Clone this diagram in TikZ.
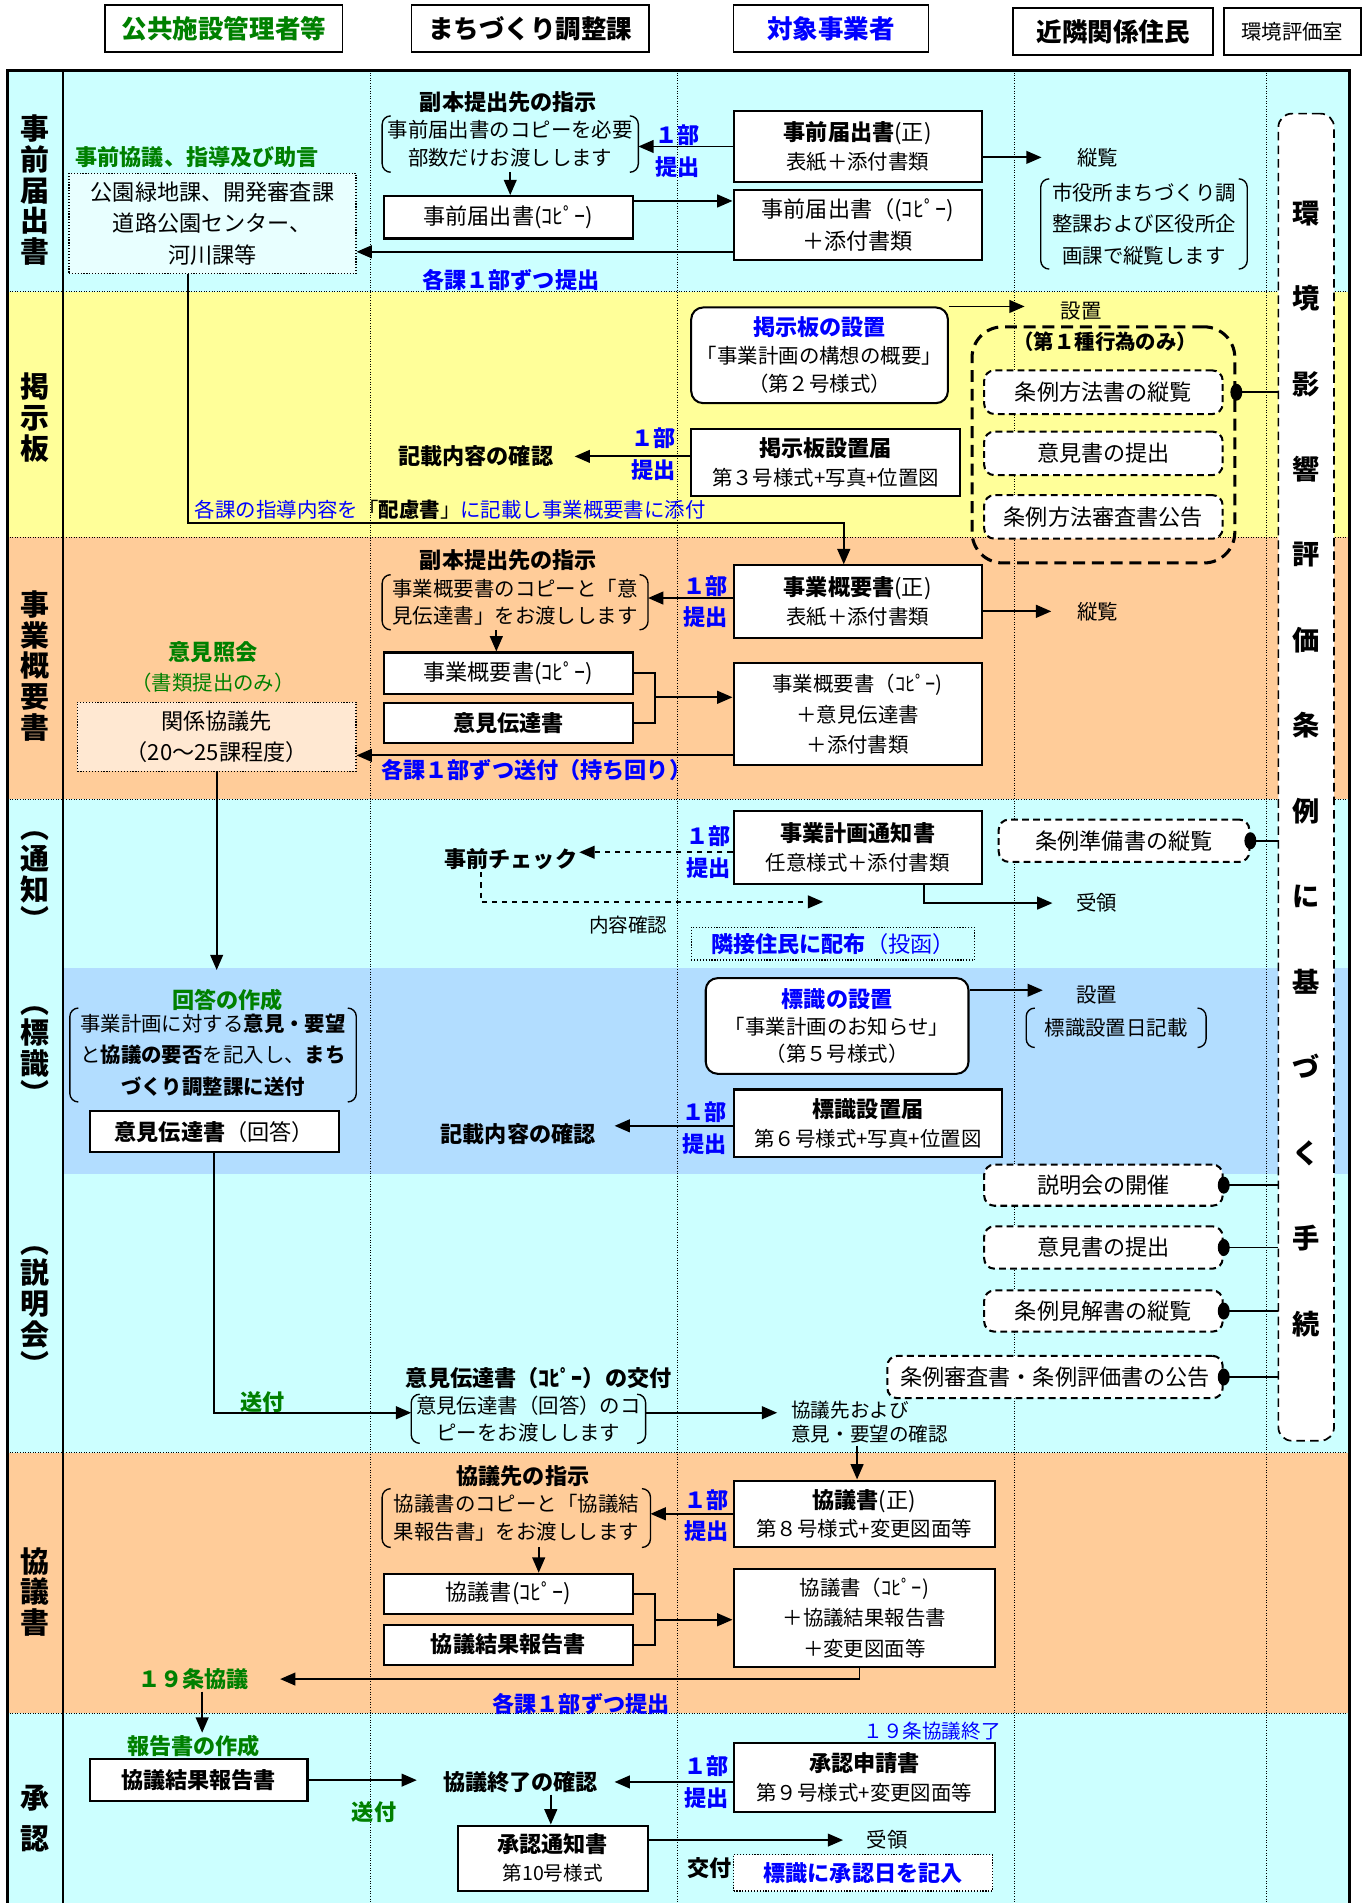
\documentclass[tikz,border=0pt]{standalone}
\usepackage{fontspec}
\setmainfont{Noto Sans CJK JP}
\usetikzlibrary{arrows.meta}
\definecolor{rcyan}{HTML}{CCFFFF}
\definecolor{lcyan}{HTML}{E8FFFF}
\definecolor{ryellow}{HTML}{FFFF99}
\definecolor{rorange}{HTML}{FFCC99}
\definecolor{lorange}{HTML}{FFE8D2}
\definecolor{rblue}{HTML}{B2DDFF}
\definecolor{dgreen}{HTML}{008000}
\newcommand\sz[2]{\fontsize{#1}{#2}\selectfont}
\newcommand\kakko[1]{%
	\draw[line width=0.8pt, rounded corners=5pt] ([xshift=5pt]#1.north west) -- (#1.north west) -- (#1.south west) -- ([xshift=5pt]#1.south west);
	\draw[line width=0.8pt, rounded corners=5pt] ([xshift=-5pt]#1.north east) -- (#1.north east) -- (#1.south east) -- ([xshift=-5pt]#1.south east);}

\begin{document}
\begin{tikzpicture}[x=0.025cm, y=-0.025cm, >={Triangle[length=9pt,width=7.5pt]},
	box/.style={draw=black, line width=1.2pt, fill=white, inner sep=0pt, align=center, font=\sz{12}{17}},
	rbox/.style={box, rounded corners=7pt},
	dbox/.style={draw=black, dashed, dash pattern=on 4pt off 2.5pt, line width=1.2pt, rounded corners=6pt, fill=white, inner sep=0pt, font=\sz{13}{17}},
	dotbox/.style={draw=black, densely dotted, line width=0.7pt, inner sep=0pt, align=center, font=\sz{13}{18.5}},
	brk/.style={inner sep=0pt, align=center, font=\sz{12}{16.4}},
	hbox/.style={draw=black, line width=1pt, inner sep=0pt, font=\sz{15}{17}\bfseries, minimum height=0.96cm},
	rowlbl/.style={inner sep=0pt, align=center, font=\sz{17}{18}\bfseries},
	tn/.style={inner sep=1pt, font=\sz{12}{14}},
	tb/.style={inner sep=1pt, font=\sz{13}{15}\bfseries},
	tg/.style={inner sep=1pt, font=\sz{13}{15}\bfseries, text=dgreen},
	tbl/.style={inner sep=1pt, font=\sz{13}{15}\bfseries, text=blue},
	sub/.style={inner sep=0pt, align=center, font=\sz{13}{18.5}\bfseries, text=blue},
	con/.style={line width=1.1pt},
	grid/.style={densely dotted, line width=0.5pt}]
	
	\useasboundingbox (0,0) rectangle (1130,1572);
	
	\fill[rcyan] (6,58) rectangle (1115,241);
	\fill[ryellow] (6,241) rectangle (1115,444);
	\fill[rorange] (6,444) rectangle (1115,660);
	\fill[rcyan] (6,660) rectangle (1115,1200);
	\fill[rblue] (52,800) rectangle (1115,970);
	\fill[rorange] (6,1200) rectangle (1115,1415);
	\fill[rcyan] (6,1415) rectangle (1115,1572);
	
	\foreach \y in {241,444,660,1200,1415}
		\draw[grid] (6,\y) -- (1115,\y);
	\foreach \x in {306,560,838,1046}
		\draw[grid] (\x,58) -- (\x,1572);
	\draw[line width=0.8pt] (52,58) -- (52,1572);
	\draw[line width=2pt] (6,1572) -- (6,58) -- (1115,58) -- (1115,1572);
	
	\node[hbox, minimum width=4.9cm, text=dgreen] (kokyo) at (185,23.5) {公共施設管理者等};
	\node[hbox, minimum width=4.9cm] (machi) at (438,23.5) {まちづくり調整課};
	\node[hbox, minimum width=4.025cm, text=blue] (jigyosha) at (686.5,23.5) {対象事業者};
	\node[hbox, minimum width=4.125cm] (kinrin) at (919.5,26) {近隣関係住民};
	\node[hbox, minimum width=2.825cm, font=\sz{12}{14}] (kankyo) at (1067.5,26) {環境評価室};
	
	\node[rowlbl] (r1) at (29,157) {事\\前\\届\\出\\書};
	\node[rowlbl] (r2) at (29,345) {掲\\示\\板};
	\node[rowlbl] (r3) at (29,550) {事\\業\\概\\要\\書};
	\node[rowlbl] (r4) at (29,728) {︵\\通\\知\\︶};
	\node[rowlbl] (r5) at (29,872) {︵\\標\\識\\︶};
	\node[rowlbl] (r6) at (29,1083) {︵\\説\\明\\会\\︶};
	\node[rowlbl] (r7) at (29,1315) {協\\議\\書};
	\node[rowlbl, font=\sz{17}{24}\bfseries] (r8) at (29,1502) {承\\認};
	
	\node[box, dashed, dash pattern=on 5pt off 3pt, line width=1pt, rounded corners=8pt, minimum width=1.15cm, minimum height=27.4cm] (tetsuzuki) at (1079,642) {};
	\node[inner sep=0pt, align=center, font=\sz{16}{50.2}\bfseries] (tetsu) at (1079,635) {環\\境\\影\\響\\評\\価\\条\\例\\に\\基\\づ\\く\\手\\続};
	
	\node[tb] (fuku1) at (420,84) {副本提出先の指示};
	\node[brk, minimum width=5.275cm, minimum height=1.15cm] (b1) at (421.5,119) {事前届出書のコピーを必要\\部数だけお渡しします};
	\node[box, minimum width=5.15cm, minimum height=0.875cm, font=\sz{13}{17}] (copy1) at (420,179.5) {事前届出書(ｺﾋﾟｰ)};
	\node[box, minimum width=5.125cm, minimum height=1.45cm] (pre) at (708.5,121) {{\sz{13}{17}\bfseries 事前届出書}{\sz{13}{17}(正)}\\表紙＋添付書類};
	\node[box, minimum width=5.125cm, minimum height=1.45cm, font=\sz{13}{19}] (precopy) at (708.5,186) {事前届出書（(ｺﾋﾟｰ)\\＋添付書類};
	\node[dotbox, fill=lcyan, minimum width=5.925cm, minimum height=2.075cm] (kouen) at (175.5,184.5) {公園緑地課、開発審査課\\道路公園センター、\\河川課等};
	\node[tg] (jizen) at (163,130) {事前協議、指導及び助言};
	\node[tbl] (kaka1) at (422,231) {各課１部ずつ提出};
	\node[sub] (s1) at (560,125) {１部\\提出};
	\node[tn] (etsu1) at (907,130) {縦覧};
	\node[brk, minimum width=4.25cm, minimum height=1.85cm, font=\sz{12}{18.5}] (b2) at (945,185) {市役所まちづくり調\\整課および区役所企\\画課で縦覧します};
	\kakko{b1}
	\kakko{b2}
	
	\node[rbox, minimum width=5.3cm, minimum height=1.975cm, font=\sz{12}{16.4}] (keiji) at (677,293.5) {{\sz{13}{16.4}\bfseries\color{blue}掲示板の設置}\\「事業計画の構想の概要」\\（第２号様式）};
	\node[box, minimum width=5.55cm, minimum height=1.4cm] (ktodoke) at (682,382) {{\sz{13}{17}\bfseries 掲示板設置届}\\第３号様式+写真+位置図};
	\node[tb] (kisai1) at (393,377) {記載内容の確認};
	\node[sub] (s2) at (540,375) {１部\\提出};
	\node[tn] (secchi1) at (893,257) {設置};
	\node[draw=black, dashed, dash pattern=on 7pt off 4pt, line width=1.8pt, rounded corners=18pt, minimum width=5.425cm, minimum height=4.875cm, inner sep=0pt] (dai1) at (911.5,367.5) {};
	\node[tb, font=\sz{12}{14}\bfseries] (dai1t) at (913,282) {（第１種行為のみ）};
	\node[dbox, minimum width=4.925cm, minimum height=0.9cm] (hoho) at (911.5,324) {条例方法書の縦覧};
	\node[dbox, minimum width=4.925cm, minimum height=0.9cm] (iken1) at (911.5,374.5) {意見書の提出};
	\node[dbox, minimum width=4.925cm, minimum height=0.9cm] (shinsa1) at (911.5,427) {条例方法審査書公告};
	\node[tn, text=blue] (shido) at (372,421) {各課の指導内容を{\color{black}「\textbf{配慮書}」}に記載し事業概要書に添付};
	
	\node[tb] (fuku2) at (420,463) {副本提出先の指示};
	\node[brk, minimum width=5.475cm, minimum height=1.125cm, font=\sz{12}{15.6}] (b3) at (425.5,497.5) {事業概要書のコピーと「意\\見伝達書」をお渡しします};
	\node[box, minimum width=5.125cm, minimum height=1.5cm] (gaiyo) at (708.5,497) {{\sz{13}{17}\bfseries 事業概要書}{\sz{13}{17}(正)}\\表紙＋添付書類};
	\node[box, minimum width=5.15cm, minimum height=0.85cm, font=\sz{13}{17}] (gcopy) at (420,556) {事業概要書(ｺﾋﾟｰ)};
	\node[box, minimum width=5.15cm, minimum height=0.825cm, font=\sz{13}{17}\bfseries] (iken) at (420,597.5) {意見伝達書};
	\node[box, minimum width=5.125cm, minimum height=2.1cm, font=\sz{12}{17.8}] (gset) at (708.5,590) {事業概要書（ｺﾋﾟｰ)\\＋意見伝達書\\＋添付書類};
	\node[dotbox, fill=lorange, minimum width=5.75cm, minimum height=1.425cm] (kankei) at (179,608.5) {関係協議先\\（20～25課程度）};
	\node[tg] (shokai) at (176,539) {意見照会};
	\node[tn, text=dgreen] (shorui) at (176,564) {（書類提出のみ）};
	\node[tbl] (kaka2) at (443,636) {各課１部ずつ送付（持ち回り）};
	\node[sub] (s3) at (583,497) {１部\\提出};
	\node[tn] (etsu2) at (907,505) {縦覧};
	\kakko{b3}
	\coordinate (j1) at (541,576);
	
	\node[box, minimum width=5.125cm, minimum height=1.5cm] (tsuchi) at (708.5,700) {{\sz{13}{17}\bfseries 事業計画通知書}\\任意様式＋添付書類};
	\node[tb] (check) at (422,710) {事前チェック};
	\node[tn, font=\sz{11.5}{14}] (naiyo) at (519,764) {内容確認};
	\node[tn] (jyuryo1) at (906,746) {受領};
	\node[dotbox, minimum width=5.85cm, minimum height=0.675cm, text=blue] (haifu) at (688,779.5) {{\bfseries 隣接住民に配布}（投函）};
	\node[dbox, minimum width=5.175cm, minimum height=0.875cm] (junbi) at (928.5,694.5) {条例準備書の縦覧};
	\node[sub] (s4) at (585,704) {１部\\提出};
	\coordinate (chk) at (680,745);
	
	\node[tg] (sakusei) at (188,826) {回答の作成};
	\node[brk, minimum width=5.9cm, minimum height=1.925cm, font=\sz{12}{18.5}] (b4) at (176,871.5) {事業計画に対する\textbf{意見・要望}\\と\textbf{協議の要否}を記入し、\textbf{まち}\\\textbf{づくり調整課に送付}};
	\node[box, minimum width=5.15cm, minimum height=0.85cm, font=\sz{13}{17}] (kaito) at (177,935) {\textbf{意見伝達書}（回答）};
	\node[rbox, minimum width=5.425cm, minimum height=1.975cm, font=\sz{12}{16}] (hyoshiki) at (691.5,847.5) {{\sz{13}{16}\bfseries\color{blue}標識の設置}\\「事業計画のお知らせ」\\（第５号様式）};
	\node[tn] (secchi2) at (906,822) {設置};
	\node[brk, minimum width=3.7cm, minimum height=0.8cm] (b5) at (922,849) {標識設置日記載};
	\node[box, minimum width=5.55cm, minimum height=1.4cm] (htodoke) at (717,928) {{\sz{13}{17}\bfseries 標識設置届}\\第６号様式+写真+位置図};
	\node[tb] (kisai2) at (428,937) {記載内容の確認};
	\node[sub] (s5) at (582,932) {１部\\提出};
	\kakko{b4}
	\kakko{b5}
	
	\node[dbox, minimum width=4.925cm, minimum height=0.85cm] (kaisai) at (911.5,979) {説明会の開催};
	\node[dbox, minimum width=4.925cm, minimum height=0.875cm] (iken2) at (911.5,1030.5) {意見書の提出};
	\node[dbox, minimum width=4.925cm, minimum height=0.85cm] (kenkai) at (911.5,1083) {条例見解書の縦覧};
	\node[dbox, minimum width=6.925cm, minimum height=0.875cm] (kokoku) at (871.5,1137.5) {条例審査書・条例評価書の公告};
	\node[tb] (kofu1) at (445,1138) {意見伝達書（ｺﾋﾟｰ）の交付};
	\node[brk, minimum width=4.825cm, minimum height=1cm, font=\sz{12}{15.6}] (b6) at (436.5,1172) {意見伝達書（回答）のコ\\ピーをお渡しします};
	\node[tg] (sofu1) at (217,1158) {送付};
	\node[tn, anchor=west, align=left, font=\sz{11.5}{14.2}] (kyogisaki) at (652,1175) {協議先および\\意見・要望の確認};
	\kakko{b6}
	
	\node[tb] (kshiji) at (432,1219) {協議先の指示};
	\node[brk, minimum width=5.525cm, minimum height=1.2cm] (b7) at (426.5,1254) {協議書のコピーと「協議結\\果報告書」をお渡しします};
	\node[box, minimum width=5.4cm, minimum height=1.375cm] (kyogi) at (714,1250.5) {{\sz{13}{17}\bfseries 協議書}{\sz{13}{17}(正)}\\第８号様式+変更図面等};
	\node[box, minimum width=5.15cm, minimum height=0.825cm, font=\sz{13}{17}] (kcopy) at (420,1316.5) {協議書(ｺﾋﾟｰ)};
	\node[box, minimum width=5.15cm, minimum height=0.825cm, font=\sz{13}{17}\bfseries] (kkekka) at (420,1358.5) {協議結果報告書};
	\node[box, minimum width=5.4cm, minimum height=2.025cm, font=\sz{12}{17.8}] (kset) at (714,1336.5) {協議書（ｺﾋﾟｰ)\\＋協議結果報告書\\＋変更図面等};
	\node[tg] (jyo19) at (160,1387) {１９条協議};
	\node[tbl] (kaka3) at (480,1408) {各課１部ずつ提出};
	\node[sub] (s6) at (584,1252) {１部\\提出};
	\kakko{b7}
	\coordinate (j2) at (541,1338);
	
	\node[tg] (hsakusei) at (160,1442) {報告書の作成};
	\node[box, minimum width=4.5cm, minimum height=0.875cm, font=\sz{13}{17}\bfseries] (hokoku) at (164,1470.5) {協議結果報告書};
	\node[tg] (sofu2) at (309,1497) {送付};
	\node[tb] (shuryo) at (430,1472) {協議終了の確認};
	\node[tn, font=\sz{11.5}{14}, text=blue] (shuryo19) at (770,1430) {１９条協議終了};
	\node[box, minimum width=5.4cm, minimum height=1.425cm] (shonin) at (714,1468.5) {{\sz{13}{17}\bfseries 承認申請書}\\第９号様式+変更図面等};
	\node[box, minimum width=3.925cm, minimum height=1.35cm, font=\sz{11.5}{16.4}] (tsuchisho) at (456.5,1535) {{\sz{13}{16.4}\bfseries 承認通知書}\\第10号様式};
	\node[tn] (jyuryo2) at (733,1520) {受領};
	\node[tb] (kofu2) at (586,1543) {交付};
	\node[dotbox, fill=white, minimum width=5.35cm, minimum height=0.75cm, font=\sz{13}{17}\bfseries, text=blue] (kinyu) at (713,1547) {標識に承認日を記入};
	\node[sub] (s7) at (584,1472) {１部\\提出};
	
	\draw[con, ->] (pre.west) -- (pre.west -| b1.east);
	\draw[con, ->] (b1.south) -- (b1.south |- copy1.north);
	\draw[con, ->] (copy1.east |- 0,166) -- (precopy.west |- 0,166);
	\draw[con, ->] (precopy.west |- 0,208) -- (kouen.east |- 0,208);
	\draw[con, ->, shorten >=0.7cm] (pre.east |- etsu1) -- (etsu1);
	\draw[con, ->] (kouen.south -| 155,0) |- (697,432) -- (gaiyo.north -| 697,0);
	
	\draw[con, ->, shorten >=0.7cm] (keiji.north east) -- (secchi1.west |- keiji.north east);
	\draw[con, ->, shorten >=0.4cm] (ktodoke.west |- kisai1) -- (kisai1);
	
	\draw[con, ->] (gaiyo.west |- 0,494) -- (b3.east |- 0,494);
	\draw[con, ->] (b3.south -| 410,0) -- (gcopy.north -| 410,0);
	\draw[con, ->, shorten >=0.5cm] (gaiyo.east |- etsu2) -- (etsu2);
	\draw[con] (gcopy.east) -| (j1) |- (iken.east);
	\draw[con, ->] (j1) -- (gset.west |- j1);
	\draw[con, ->] (gset.west |- 0,624) -- (kankei.east |- 0,624);
	\draw[con, ->, shorten >=0.35cm] (kankei.south) -- (kankei.south |- sakusei.north);
	
	\draw[con, ->, dashed] (tsuchi.west |- 0,704) -- (check.east |- 0,704);
	\draw[con, ->, dashed] (check.south -| 397,0) |- (chk);
	\draw[con, ->, shorten >=0.45cm] (tsuchi.south -| 763,0) |- (jyuryo1.west);
	
	\draw[con, ->, shorten >=0.65cm] (hyoshiki.east |- 0,818) -- (secchi2.west |- 0,818);
	\draw[con, ->, shorten >=0.35cm] (htodoke.west |- 0,930) -- (kisai2.east |- 0,930);
	
	\draw[con, ->] (kaito.south) |- (b6.west |- 0,1167);
	\draw[con, ->, shorten >=0.25cm] (b6.east |- 0,1167) -- (kyogisaki.west |- 0,1167);
	\draw[con, ->] (kyogisaki.south -| 708,0) -- (kyogi.north -| 708,0);
	
	\draw[con, ->] (kyogi.west) -- (kyogi.west -| b7.east);
	\draw[con, ->] (b7.south -| 445,0) -- (kcopy.north -| 445,0);
	\draw[con] (kcopy.east) -| (j2) |- (kkekka.east);
	\draw[con, ->] (j2) -- (kset.west |- j2);
	\draw[con, ->, shorten >=0.6cm] (kset.south -| 710,0) |- (jyo19.east);
	\draw[con, ->] (jyo19.south -| 167,0) -- (hsakusei.north -| 167,0);
	
	\draw[con, ->, shorten >=0.5cm] (hokoku.east) -- (shuryo.west |- hokoku.east);
	\draw[con, ->, shorten >=0.3cm] (shonin.west |- shuryo) -- (shuryo.east);
	\draw[con, ->] (shuryo.south -| 455,0) -- (tsuchisho.north -| 455,0);
	\draw[con, ->, shorten >=0.45cm] (tsuchisho.east |- jyuryo2) -- (jyuryo2.west);
	
	\foreach \n in {junbi,kaisai,iken2,kenkai,kokoku} {
		\draw[con] (\n.east) -- (tetsuzuki.west |- \n.east);
		\fill (\n.east) ellipse (3.5pt and 5pt);
	}
	\draw[con] (dai1.east |- hoho) -- (tetsuzuki.west |- hoho);
	\fill (dai1.east |- hoho) ellipse (3.5pt and 5pt);
	
\end{tikzpicture}
\end{document}
